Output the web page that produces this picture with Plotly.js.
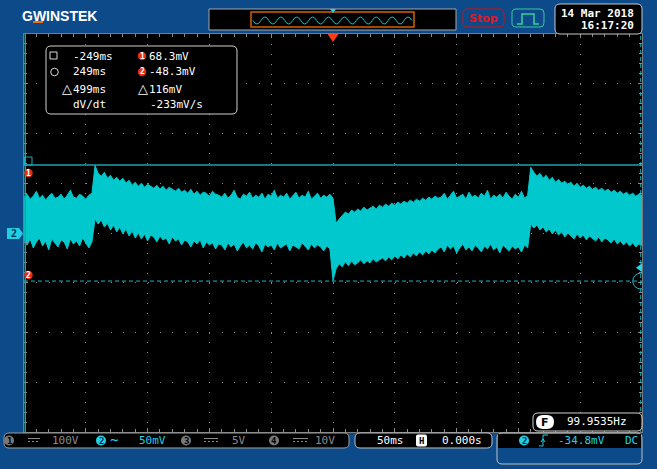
<!DOCTYPE html>
<html><head><meta charset="utf-8">
<script src="https://cdn.plot.ly/plotly-3.0.1.min.js"></script>
<style>html,body{margin:0;padding:0;background:#0c4a8a;overflow:hidden}#chart{width:657px;height:469px}</style>
</head><body><div id="chart"></div>
<script>
// ---- data (time in ms, voltage in mV) ----
const timeStart = -250, timeStep = 2.5;
const upperMv = [
 36,39,34,37,42,35,38,33,37,40,35,36,39,34,38,43,36,35,39,37,34,38,40,
 68,60,57,61,55,58,53,56,52,55,
 50,53,48,51,47,50,46,49,47,45,48,44,47,43,46,44,42,
 45,41,43,40,44,39,42,38,41,40,37,42,39,38,
 36,40,35,38,43,36,34,39,37,41,35,38,36,40,34,39,37,43,35,38,36,40,34,37,41,35,38,36,42,34,37,40,35,38,36,39,
 35,
 10,14,18,21,19,23,21,24,22,26,23,25,27,24,28,26,29,27,30,28,31,29,32,30,33,31,34,32,35,33,36,34,37,35,
 36,40,34,38,42,35,37,39,34,41,36,38,35,40,37,43,34,38,36,39,35,41,37,34,39,36,42,35,38,
 66,61,57,60,55,58,53,56,51,54,50,52,49,51,47,50,46,48,45,47,44,46,43,45,42,44,41,43,40,42,39,41,38,40,37,39,38
];
const lowerMv = [
 -7,-12,-6,-15,-9,-5,-13,-8,-17,-6,-10,-14,-7,-9,-16,-6,-11,-8,-13,-5,-10,-15,-9,
 14,9,13,6,10,3,8,1,6,-1,
 4,-3,2,-5,0,-6,-1,-8,-2,-4,-9,-3,-7,-5,-11,-4,-8,
 -6,-12,-7,-9,-14,-8,-11,-7,-15,-9,-12,-10,-16,-11,
 -12,-17,-10,-14,-11,-18,-13,-9,-15,-12,-16,-10,-13,-19,-11,-14,-12,-17,-10,-15,-13,-11,-18,-12,-14,-16,-10,-13,-17,-11,-15,-12,-14,-18,-13,-16,
 -48,
 -36,-31,-34,-29,-33,-28,-32,-30,-27,-31,-28,-30,-26,-29,-27,-25,-28,-24,-27,-23,-26,-22,-25,-21,-24,-20,-23,-19,-22,-18,-21,-17,-20,-16,
 -14,-19,-12,-16,-13,-20,-15,-11,-17,-14,-18,-12,-15,-19,-13,-16,-11,-17,-14,-20,-12,-15,-18,-13,-16,-14,-19,-12,-15,
 9,5,8,3,6,1,4,-1,3,-2,1,-4,0,-3,-6,-1,-5,-2,-7,-3,-6,-8,-4,-9,-5,-7,-10,-6,-11,-8,-12,-9,-13,-10,-14,-11,-13
];
const timeMs = upperMv.map((_, i) => timeStart + i * timeStep);
const cursorTimes = [-249, 249];
const cursorLevels = [68.3, -48.3];
const triggerLevel = -34.8;
const cursorTexts = ['-249ms', '249ms', '499ms', 'dV/dt'];
const cursorValues = ['68.3mV', '-48.3mV', '116mV', '-233mV/s'];
const channelScales = ['100V', '50mV', '5V', '10V'];
const timebase = '50ms', hPos = '0.000s', trigText = '-34.8mV', freqText = '99.9535Hz';
const dateText = '14 Mar 2018', timeText = '16:17:20';

// ---- styling ----
const BLUE = '#0c4a8a', CYAN = '#00c8cc', TXT_CYAN = '#1ed2e8', GRAY = '#8c8c8c';
const MONO = 'DejaVu Sans Mono';
const L = 24, T = 34, W = 618, H = 398;
const px = x => (x - L) / W, py = y => (T + H - y) / H;
const P = (x, y) => px(x).toFixed(5) + ',' + py(y).toFixed(5);

const shapes = [];
const ann = [];
function rect(x0, y0, x1, y1, lc, lw, fill) {
  shapes.push({type: 'rect', xref: 'paper', yref: 'paper', x0: px(x0), x1: px(x1), y0: py(y1), y1: py(y0),
    line: {color: lc || 'rgba(0,0,0,0)', width: lc ? (lw || 1) : 0}, fillcolor: fill || 'rgba(0,0,0,0)', layer: 'above'});
}
function path(d, lc, lw, fill, dash) {
  shapes.push({type: 'path', xref: 'paper', yref: 'paper', path: d,
    line: {color: lc || 'rgba(0,0,0,0)', width: lc ? (lw || 1) : 0, dash: dash || 'solid'}, fillcolor: fill || 'rgba(0,0,0,0)', layer: 'above'});
}
function circ(cx, cy, r, lc, fill) {
  shapes.push({type: 'circle', xref: 'paper', yref: 'paper', x0: px(cx - r), x1: px(cx + r), y0: py(cy + r), y1: py(cy - r),
    line: {color: lc || 'rgba(0,0,0,0)', width: lc ? 1 : 0}, fillcolor: fill || 'rgba(0,0,0,0)', layer: 'above'});
}
function rr(x0, y0, x1, y1, r) {
  return 'M' + P(x0 + r, y0) + ' L' + P(x1 - r, y0) + ' Q' + P(x1, y0) + ' ' + P(x1, y0 + r) +
    ' L' + P(x1, y1 - r) + ' Q' + P(x1, y1) + ' ' + P(x1 - r, y1) +
    ' L' + P(x0 + r, y1) + ' Q' + P(x0, y1) + ' ' + P(x0, y1 - r) +
    ' L' + P(x0, y0 + r) + ' Q' + P(x0, y0) + ' ' + P(x0 + r, y0) + ' Z';
}
function txt(s, x, y, o) {
  o = o || {};
  ann.push({text: s, x: px(x), y: py(y), xref: 'paper', yref: 'paper', xanchor: o.anchor || 'left', yanchor: 'middle',
    showarrow: false, borderpad: 0, borderwidth: 0,
    font: {family: o.family || MONO, size: o.size || 11, color: o.color || '#ffffff'}});
}

// top bar
txt('<b>GWINSTEK</b>', 22, 16, {family: 'Liberation Sans', size: 14});
rect(33, 21, 43, 23, null, 0, '#f07010');
rect(209, 9, 456, 30, '#a8a8a8', 1, '#000000');
rect(251, 12, 414, 27, '#d35f0a', 1.5);
let sw = 'M' + P(253, 20.5);
const hw = (412 - 253) / 20;
for (let k = 0; k < 20; k++) {
  const x0 = 253 + k * hw, s = (k % 2 === 0) ? 7 : -7;
  sw += ' Q' + P(x0 + hw / 2, 20.5 + s) + ' ' + P(x0 + hw, 20.5);
}
path(sw, '#1fb8c8', 1);
path('M' + P(330, 9) + ' L' + P(336, 9) + ' L' + P(333, 13) + ' Z', null, 0, '#20d8e8');
path(rr(463, 9, 504, 27, 4), '#d01010', 1);
txt('<b>Stop</b>', 483.5, 18, {anchor: 'center', family: 'DejaVu Sans', size: 11, color: '#e8141e'});
path(rr(512, 9, 544, 27, 4), '#3cc8a0', 1);
path('M' + P(517, 24) + ' L' + P(522, 24) + ' L' + P(522, 14) + ' L' + P(534, 14) + ' L' + P(534, 24) + ' L' + P(539, 24), '#3cd0a0', 1.5);
path(rr(555, 4, 642, 34, 5), '#c8c8c8', 1, '#000000');
txt('<b>' + dateText + '</b>', 634, 13, {anchor: 'right'});
txt('<b>' + timeText + '</b>', 634, 26, {anchor: 'right'});

// trigger position marker
path('M' + P(327.5, 34) + ' L' + P(338.5, 34) + ' L' + P(333, 42) + ' Z', null, 0, '#ff3c14');

// channel 2 ground marker
path('M' + P(7, 228) + ' L' + P(19, 228) + ' L' + P(23, 233.5) + ' L' + P(19, 239) + ' L' + P(7, 239) + ' Z', null, 0, '#20d0e0');
txt('<b>2</b>', 13.5, 233.5, {anchor: 'center', size: 10, color: '#003366'});

// cursor readout box
path(rr(46, 46, 237, 114, 5), '#d0d0d0', 1, '#000000');
rect(50, 52, 57, 59, '#d8d8d8', 1);
circ(54.5, 72, 3.8, '#d8d8d8');
circ(142, 56, 4.2, null, '#e83010');
circ(142, 72, 4.2, null, '#e83010');
txt('<b>1</b>', 142, 56, {anchor: 'center', size: 8});
txt('<b>2</b>', 142, 72, {anchor: 'center', size: 8});
txt('△', 62, 88.5, {size: 13, family: 'DejaVu Sans'});
txt('△', 138, 88.5, {size: 13, family: 'DejaVu Sans'});
const rowsY = [56, 72, 89, 104];
for (let i = 0; i < 4; i++) {
  txt(cursorTexts[i], 73, rowsY[i]);
  txt(cursorValues[i], i === 3 ? 150 : 149, rowsY[i]);
}

// left cursor labels
circ(28.5, 173, 4.2, null, '#e83010');
circ(28.5, 275, 4.2, null, '#e83010');
txt('<b>1</b>', 28.5, 173, {anchor: 'center', size: 8});
txt('<b>2</b>', 28.5, 275, {anchor: 'center', size: 8});
rect(24.5, 157, 32, 165, '#18b0c0', 1);

// frequency box
path(rr(533, 413, 642, 431, 5), '#d0d0d0', 1, '#000000');
path(rr(536, 415, 554, 429, 7), null, 0, '#ffffff');
txt('<b>F</b>', 545, 422, {anchor: 'center', size: 11, color: '#000000', family: 'DejaVu Sans'});
txt(freqText, 567, 421.5);

// bottom bar
path(rr(4, 433, 349, 448, 5), '#a0a0a0', 1, '#000000');
path(rr(355, 433, 492, 448, 5), '#c0c0c0', 1, '#000000');
path(rr(497, 433, 642, 464, 5), '#c0c0c0', 1);
rect(498, 434, 641, 448, null, 0, '#000000');
const chCx = [9, 101, 186, 274];
const dcX = [[28, 40], null, [204, 218], [293, 308]];
const scaleX = [52, 139, 232, 315];
for (let c = 0; c < 4; c++) {
  const on = c === 1;
  circ(chCx[c], 440.5, 5, null, on ? '#22d0e4' : '#7a7a7a');
  txt('<b>' + (c + 1) + '</b>', chCx[c], 440.5, {anchor: 'center', size: 9, color: on ? '#003060' : '#000000'});
  if (dcX[c]) {
    path('M' + P(dcX[c][0], 438.5) + ' L' + P(dcX[c][1], 438.5), GRAY, 1);
    path('M' + P(dcX[c][0], 441.5) + ' L' + P(dcX[c][1], 441.5), GRAY, 1, null, '2px,2px');
  }
  txt(channelScales[c], scaleX[c], 440.5, {color: on ? TXT_CYAN : GRAY});
}
txt('~', 110, 440, {size: 14, color: TXT_CYAN});
txt(timebase, 377, 440.5);
path(rr(416, 434.5, 427, 446.5, 2), null, 0, '#ffffff');
txt('<b>H</b>', 421.5, 440.5, {anchor: 'center', size: 9, color: '#000000'});
txt(hPos, 442, 440.5);
circ(524, 440.5, 5, null, '#22d0e4');
txt('<b>2</b>', 524, 440.5, {anchor: 'center', size: 9, color: '#003060'});
path('M' + P(539, 446) + ' L' + P(543, 446) + ' L' + P(543, 435) + ' L' + P(548, 435), TXT_CYAN, 1);
path('M' + P(541, 442) + ' L' + P(543, 439) + ' L' + P(545, 442), TXT_CYAN, 1);
txt(trigText, 558, 440.5, {color: TXT_CYAN});
txt('DC', 625, 440.5, {color: TXT_CYAN});

// cursors (data coordinates, clipped to the screen)
const dataShapes = [
  {type: 'line', xref: 'x', yref: 'y', x0: -250, x1: 250, y0: cursorLevels[0], y1: cursorLevels[0], line: {color: '#1aa3ad', width: 1.5}},
  {type: 'line', xref: 'x', yref: 'y', x0: -250, x1: 250, y0: cursorLevels[1], y1: cursorLevels[1], line: {color: '#1ab8c8', width: 1, dash: '4px,3px'}},
  {type: 'line', xref: 'x', yref: 'y', x0: cursorTimes[0], x1: cursorTimes[0], y0: -200, y1: 200, line: {color: '#1aa3ad', width: 1.5}},
  {type: 'line', xref: 'x', yref: 'y', x0: cursorTimes[1], x1: cursorTimes[1], y0: -200, y1: 200, line: {color: '#1ab8c8', width: 1, dash: '4px,3px'}},
  {type: 'circle', xref: 'x', yref: 'y', x0: cursorTimes[1] - 6.5, x1: cursorTimes[1] + 6.5, y0: cursorLevels[1] - 8, y1: cursorLevels[1] + 8, line: {color: '#1ab8c8', width: 1}},
  {type: 'path', xref: 'x', yref: 'y', path: 'M250,' + (triggerLevel + 4.5) + ' L245.1,' + triggerLevel + ' L250,' + (triggerLevel - 4.5) + ' Z', fillcolor: '#20d8e8', line: {width: 0}}
];

const traces = [
  {x: timeMs, y: lowerMv, mode: 'lines', line: {color: CYAN, width: 1}, hoverinfo: 'skip'},
  {x: timeMs, y: upperMv, mode: 'lines', fill: 'tonexty', fillcolor: CYAN, line: {color: CYAN, width: 1}, hoverinfo: 'skip'}
];

const axBase = {showticklabels: false, zeroline: false, showgrid: true, gridcolor: '#8a8a8a', gridwidth: 1,
  ticks: 'inside', ticklen: 4, tickcolor: '#8a8a8a', showline: true, linecolor: '#7a7a7a', linewidth: 1,
  mirror: 'allticks', fixedrange: true};
const layout = {
  width: 657, height: 469,
  margin: {l: L, r: 657 - L - W, t: T, b: 469 - T - H, pad: 0},
  paper_bgcolor: BLUE, plot_bgcolor: '#000000', showlegend: false,
  xaxis: Object.assign({}, axBase, {range: [-250, 250], tick0: 0, dtick: 50, griddash: '1px,8.95px',
    minor: {dtick: 10, ticks: 'inside', ticklen: 3, tickcolor: '#8a8a8a', showgrid: false}}),
  yaxis: Object.assign({}, axBase, {range: [-200, 200], tick0: 0, dtick: 50, griddash: '1px,11.36px',
    minor: {dtick: 10, ticks: 'inside', ticklen: 3, tickcolor: '#8a8a8a', showgrid: false}}),
  shapes: dataShapes.concat(shapes),
  annotations: ann
};
Plotly.newPlot('chart', traces, layout, {staticPlot: true, displayModeBar: false});
</script></body></html>
